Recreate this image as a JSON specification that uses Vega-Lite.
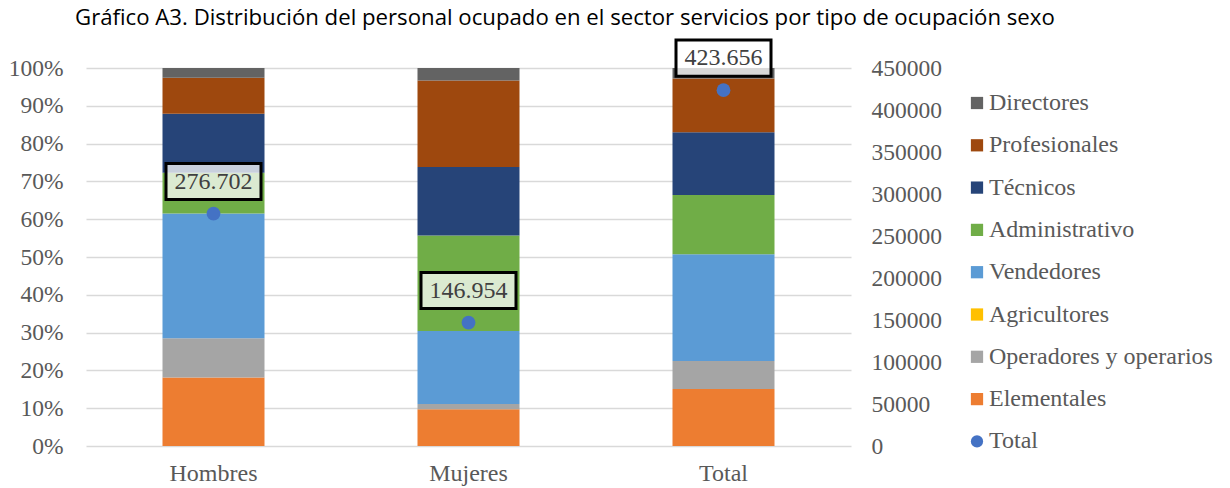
{
  "$schema": "https://vega.github.io/schema/vega-lite/v6.json",
  "width": 765,
  "height": 378,
  "autosize": {"type": "none"},
  "padding": {"left": 86, "top": 68, "right": 379, "bottom": 42},
  "background": "white",
  "title": {
    "text": "Gráfico A3. Distribución del personal ocupado en el sector servicios por tipo de ocupación sexo",
    "font": "Open Sans",
    "fontSize": 22.2,
    "fontWeight": "normal",
    "color": "#000000",
    "anchor": "start",
    "frame": "group",
    "dx": -11,
    "offset": 5
  },
  "config": {
    "view": {"stroke": null},
    "font": "Liberation Serif"
  },
  "datasets": {
    "bars": [
      {"grupo": "Hombres", "ocupacion": "Elementales", "ord": 1, "pct": 18.1},
      {"grupo": "Hombres", "ocupacion": "Operadores y operarios", "ord": 2, "pct": 10.4},
      {"grupo": "Hombres", "ocupacion": "Agricultores", "ord": 3, "pct": 0.0},
      {"grupo": "Hombres", "ocupacion": "Vendedores", "ord": 4, "pct": 33.0},
      {"grupo": "Hombres", "ocupacion": "Administrativo", "ord": 5, "pct": 10.8},
      {"grupo": "Hombres", "ocupacion": "Técnicos", "ord": 6, "pct": 15.6},
      {"grupo": "Hombres", "ocupacion": "Profesionales", "ord": 7, "pct": 9.5},
      {"grupo": "Hombres", "ocupacion": "Directores", "ord": 8, "pct": 2.6},
      {"grupo": "Mujeres", "ocupacion": "Elementales", "ord": 1, "pct": 9.7},
      {"grupo": "Mujeres", "ocupacion": "Operadores y operarios", "ord": 2, "pct": 1.4},
      {"grupo": "Mujeres", "ocupacion": "Agricultores", "ord": 3, "pct": 0.0},
      {"grupo": "Mujeres", "ocupacion": "Vendedores", "ord": 4, "pct": 19.3},
      {"grupo": "Mujeres", "ocupacion": "Administrativo", "ord": 5, "pct": 25.3},
      {"grupo": "Mujeres", "ocupacion": "Técnicos", "ord": 6, "pct": 18.1},
      {"grupo": "Mujeres", "ocupacion": "Profesionales", "ord": 7, "pct": 22.9},
      {"grupo": "Mujeres", "ocupacion": "Directores", "ord": 8, "pct": 3.3},
      {"grupo": "Total", "ocupacion": "Elementales", "ord": 1, "pct": 15.1},
      {"grupo": "Total", "ocupacion": "Operadores y operarios", "ord": 2, "pct": 7.4},
      {"grupo": "Total", "ocupacion": "Agricultores", "ord": 3, "pct": 0.0},
      {"grupo": "Total", "ocupacion": "Vendedores", "ord": 4, "pct": 28.2},
      {"grupo": "Total", "ocupacion": "Administrativo", "ord": 5, "pct": 15.7},
      {"grupo": "Total", "ocupacion": "Técnicos", "ord": 6, "pct": 16.6},
      {"grupo": "Total", "ocupacion": "Profesionales", "ord": 7, "pct": 14.2},
      {"grupo": "Total", "ocupacion": "Directores", "ord": 8, "pct": 2.8}
    ],
    "totales": [
      {"grupo": "Hombres", "ocupacion": "Total", "total": 276702, "etiqueta": "276.702"},
      {"grupo": "Mujeres", "ocupacion": "Total", "total": 146954, "etiqueta": "146.954"},
      {"grupo": "Total", "ocupacion": "Total", "total": 423656, "etiqueta": "423.656"}
    ]
  },
  "encoding": {
    "x": {
      "field": "grupo",
      "type": "nominal",
      "sort": ["Hombres", "Mujeres", "Total"],
      "scale": {"paddingInner": 0.6, "paddingOuter": 0.3},
      "axis": {
        "title": null,
        "labelAngle": 0,
        "domain": false,
        "ticks": false,
        "labelFont": "Liberation Serif",
        "labelFontSize": 24,
        "labelColor": "#595959",
        "labelPadding": 15
      }
    }
  },
  "layer": [
    {
      "data": {"name": "bars"},
      "mark": {"type": "bar"},
      "encoding": {
        "y": {
          "field": "pct",
          "type": "quantitative",
          "stack": "zero",
          "scale": {"domain": [0, 100], "nice": false},
          "axis": {
            "title": null,
            "values": [0, 10, 20, 30, 40, 50, 60, 70, 80, 90, 100],
            "labelExpr": "datum.value + '%'",
            "domain": false,
            "ticks": false,
            "grid": true,
            "gridColor": "#d9d9d9",
            "gridWidth": 1.3,
            "labelFont": "Liberation Serif",
            "labelFontSize": 23.5,
            "labelColor": "#595959",
            "labelPadding": 23
          }
        },
        "order": {"field": "ord", "type": "quantitative"},
        "color": {
          "field": "ocupacion",
          "type": "nominal",
          "scale": {
            "domain": ["Directores", "Profesionales", "Técnicos", "Administrativo", "Vendedores", "Agricultores", "Operadores y operarios", "Elementales", "Total"],
            "range": ["#636363", "#9E480E", "#264478", "#70AD47", "#5B9BD5", "#FFC000", "#A5A5A5", "#ED7D31", "#4472C4"]
          },
          "legend": {
            "title": null,
            "orient": "none",
            "legendX": 879,
            "legendY": 23,
            "labelFont": "Liberation Serif",
            "labelFontSize": 24,
            "labelColor": "#595959",
            "labelLimit": 400,
            "symbolSize": 150,
            "rowPadding": 18.3,
            "symbolStrokeWidth": 0,
            "labelOffset": 0
          }
        }
      }
    },
    {
      "data": {"name": "totales"},
      "mark": {"type": "point", "filled": true, "opacity": 1, "size": 190},
      "encoding": {
        "y": {
          "field": "total",
          "type": "quantitative",
          "scale": {"domain": [0, 450000], "nice": false},
          "axis": {
            "orient": "right",
            "title": null,
            "values": [0, 50000, 100000, 150000, 200000, 250000, 300000, 350000, 400000, 450000],
            "format": "d",
            "domain": false,
            "ticks": false,
            "grid": false,
            "labelAlign": "left",
            "labelFont": "Liberation Serif",
            "labelFontSize": 23.5,
            "labelColor": "#595959",
            "labelPadding": 20
          }
        },
        "color": {"field": "ocupacion", "type": "nominal"},
        "shape": {
          "field": "ocupacion",
          "type": "nominal",
          "scale": {
            "domain": ["Directores", "Profesionales", "Técnicos", "Administrativo", "Vendedores", "Agricultores", "Operadores y operarios", "Elementales", "Total"],
            "range": ["square", "square", "square", "square", "square", "square", "square", "square", "circle"]
          },
          "legend": {
            "title": null,
            "orient": "none",
            "legendX": 879,
            "legendY": 23
          }
        }
      }
    },
    {
      "data": {"name": "totales"},
      "mark": {
        "type": "point",
        "shape": "M -1 -0.38 L 1 -0.38 L 1 0.38 L -1 0.38 Z",
        "size": 9025,
        "filled": true,
        "fill": "white",
        "fillOpacity": 0.75,
        "stroke": "black",
        "strokeWidth": 3,
        "yOffset": -32,
        "opacity": 1
      },
      "encoding": {
        "y": {"field": "total", "type": "quantitative", "scale": {"domain": [0, 450000], "nice": false}, "axis": null}
      }
    },
    {
      "data": {"name": "totales"},
      "mark": {
        "type": "text",
        "font": "Liberation Serif",
        "fontSize": 24,
        "color": "#404040",
        "yOffset": -32,
        "baseline": "middle"
      },
      "encoding": {
        "y": {"field": "total", "type": "quantitative", "scale": {"domain": [0, 450000], "nice": false}, "axis": null},
        "text": {"field": "etiqueta"}
      }
    }
  ],
  "resolve": {"scale": {"y": "independent"}}
}
